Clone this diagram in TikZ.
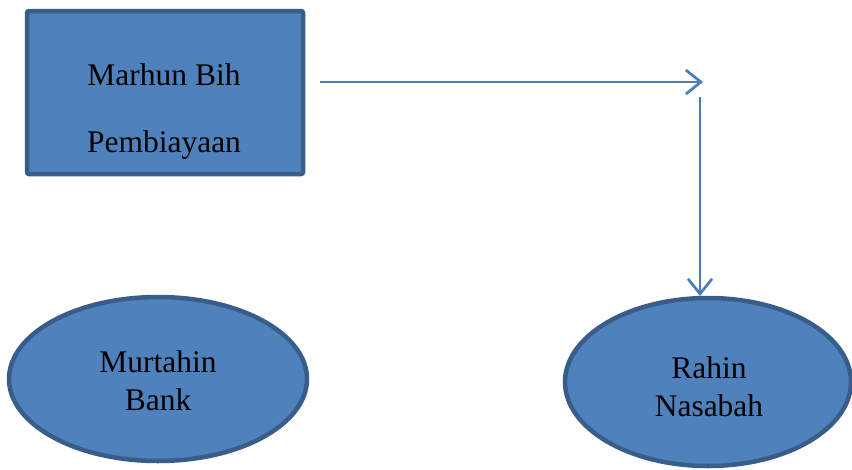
\documentclass[tikz,border=0pt]{standalone}
\usepackage{fontspec}
\setmainfont{Liberation Serif}
\usetikzlibrary{shapes.geometric,arrows.meta}
\definecolor{boxfill}{HTML}{4F81BD}
\definecolor{boxline}{HTML}{385D8A}
\definecolor{arrowcol}{HTML}{4A7EBB}
\tikzset{
  shapebox/.style={draw=boxline,fill=boxfill,line width=4.5pt,inner sep=0pt,rounded corners=2pt},
  shapeell/.style={ellipse,draw=boxline,fill=boxfill,line width=4.5pt,inner sep=0pt},
  lbl/.style={anchor=base,inner sep=0pt,font=\fontsize{31.5}{36}\selectfont},
  conn/.style={draw=arrowcol,line width=2.7pt,-{Straight Barb[length=15pt,width=24pt,line width=2.7pt]}}
}
\begin{document}
\begin{tikzpicture}[x=1pt,y=-1pt]
\useasboundingbox (0,0) rectangle (852,469);
\node[shapebox,minimum width=276pt,minimum height=163pt] (box) at (165,92.5) {};
\node[lbl] (t1) at (164,85) {Marhun Bih};
\node[lbl] (t2) at (164,152) {Pembiayaan};
\node[shapeell,minimum width=298pt,minimum height=164pt] (murtahin) at (158,379) {};
\node[lbl] (t3) at (158,372) {Murtahin};
\node[lbl] (t4) at (158,410) {Bank};
\node[shapeell,minimum width=286pt,minimum height=168pt] (rahin) at (708,382) {};
\node[lbl] (t5) at (709,378) {Rahin};
\node[lbl] (t6) at (709,416) {Nasabah};
\coordinate (a1) at (320,82);
\coordinate (a2) at (703,82);
\coordinate (b1) at (700,97);
\coordinate (b2) at (700,296);
\draw[conn] (a1) -- (a2);
\draw[conn] (b1) -- (b2);
\end{tikzpicture}
\end{document}
